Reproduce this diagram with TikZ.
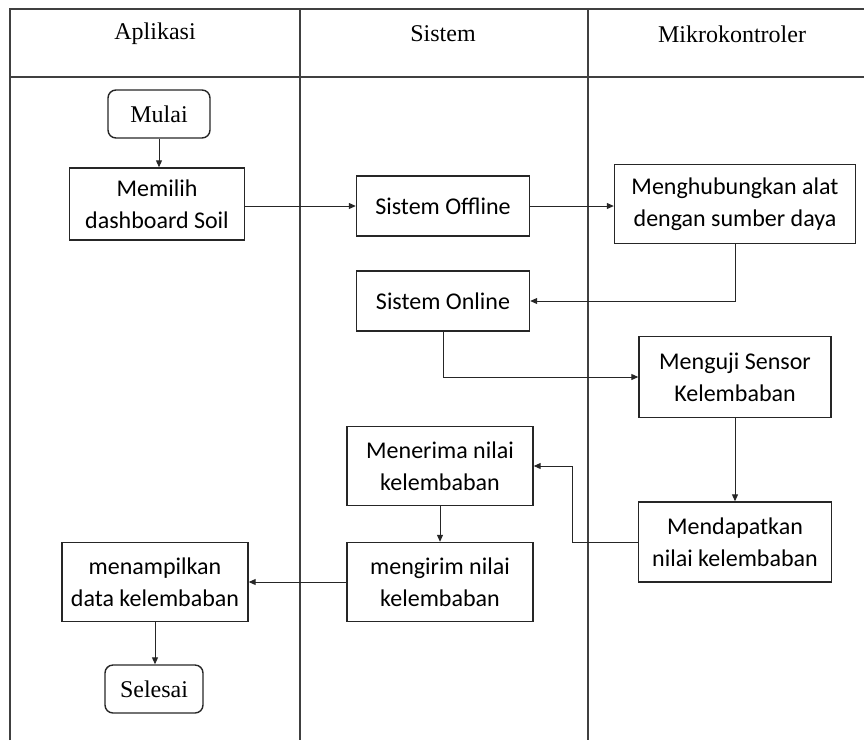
\documentclass[tikz,border=0pt]{standalone}
\usepackage{fontspec}
\setmainfont{Liberation Serif}
\newfontfamily\kotakfont{Carlito}
\usepackage{tikz}
\usetikzlibrary{arrows.meta, positioning}

\tikzset{
	proses/.style={draw=black!85, line width=1.4pt, align=center, inner sep=0pt,
		font=\kotakfont\fontsize{24}{32}\selectfont},
	terminal/.style={draw=black!85, line width=1.4pt, rounded corners=8pt, align=center,
		inner sep=0pt, minimum width=100pt, minimum height=48pt,
		font=\fontsize{24}{28}\selectfont},
	judul/.style={font=\fontsize{24}{28}\selectfont},
	garis/.style={line width=1pt, black!85, -{Triangle[length=7pt,width=6pt]}}
}

\begin{document}
\begin{tikzpicture}[x=1pt, y=-1pt]
	\useasboundingbox (0,0) rectangle (864,740);
	% swimlanes
	\draw[line width=1.4pt, black!75] (10,740) -- (10,9) -- (864,9);
	\draw[line width=1.4pt, black!75] (10,77) -- (864,77);
	\draw[line width=1.4pt, black!75] (300,9) -- (300,740);
	\draw[line width=1.4pt, black!75] (588,9) -- (588,740);
	\node at (155,34) (hapl) [judul] {Aplikasi};
	\node at (443,34) (hsis) [judul] {Sistem};
	\node at (732,34) (hmik) [judul] {Mikrokontroler};

	% nodes
	\node at (159,114) (mulai) [terminal, minimum width=102pt] {Mulai};
	\node at (157,204) (pilih) [proses, minimum width=175pt, minimum height=72pt] {Memilih\\dashboard Soil};
	\node at (443,206) (offline) [proses, minimum width=173pt, minimum height=60pt] {Sistem Offline};
	\node at (735,204) (hubung) [proses, minimum width=241pt, minimum height=79pt] {Menghubungkan alat\\dengan sumber daya};
	\node at (443,301) (online) [proses, minimum width=173pt, minimum height=60pt] {Sistem Online};
	\node at (735,377) (uji) [proses, minimum width=192pt, minimum height=81pt] {Menguji Sensor\\Kelembaban};
	\node at (440,466) (terima) [proses, minimum width=186pt, minimum height=79pt] {Menerima nilai\\kelembaban};
	\node at (735,542) (dapat) [proses, minimum width=193pt, minimum height=80pt] {Mendapatkan\\nilai kelembaban};
	\node at (440,582) (kirim) [proses, minimum width=186pt, minimum height=79pt] {mengirim nilai\\kelembaban};
	\node at (155,582) (tampil) [proses, minimum width=186pt, minimum height=79pt] {menampilkan\\data kelembaban};
	\node at (154,689) (selesai) [terminal, minimum width=98pt] {Selesai};
	\coordinate (belok) at (572,542);

	% connectors
	\draw[garis] (mulai) -- (mulai |- pilih.north);
	\draw[garis] (pilih.east |- offline) -- (offline);
	\draw[garis] (offline) -- (offline -| hubung.west);
	\draw[garis] (hubung) |- (online);
	\draw[garis] (online) |- (uji);
	\draw[garis] (uji) -- (dapat);
	\draw[garis] (dapat) -- (belok) |- (terima);
	\draw[garis] (terima) -- (kirim);
	\draw[garis] (kirim) -- (tampil);
	\draw[garis] (tampil) -- (tampil |- selesai.north);
\end{tikzpicture}
\end{document}
